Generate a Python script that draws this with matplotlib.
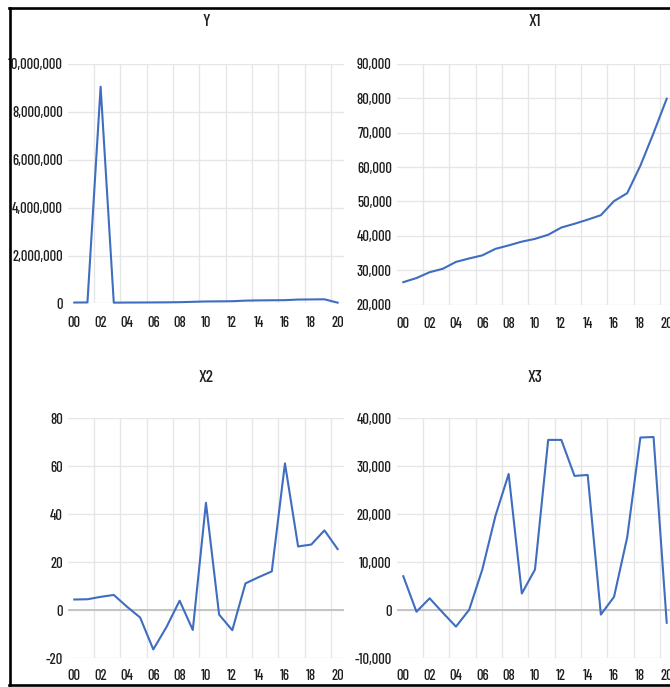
import numpy as np
import matplotlib
matplotlib.use('Agg')
import matplotlib.pyplot as plt
from matplotlib.ticker import FuncFormatter
from matplotlib.lines import Line2D

# Datos (anios 2000-2020)
anios = np.arange(0, 21)
etiquetas_x = ['00', '02', '04', '06', '08', '10', '12', '14', '16', '18', '20']

serie_y = [40000, 45000, 9050000, 35000, 40000, 42000, 45000, 48000, 55000, 70000,
           85000, 90000, 95000, 120000, 130000, 135000, 140000, 165000, 170000, 175000, 35000]
serie_x1 = [26500, 27700, 29400, 30400, 32400, 33400, 34300, 36200, 37200, 38300,
            39100, 40300, 42400, 43500, 44700, 46000, 50100, 52400, 60400, 69900, 79900]
serie_x2 = [4.5, 4.6, 5.6, 6.4, 1.5, -3.0, -16.3, -7.0, 4.0, -8.2,
            44.8, -1.8, -8.3, 11.2, 13.8, 16.2, 61.2, 26.6, 27.4, 33.3, 25.5]
serie_x3 = [7100, -300, 2500, -500, -3400, 100, 8500, 19700, 28400, 3500,
            8500, 35500, 35500, 28000, 28200, -900, 2800, 15200, 36000, 36100, -2600]

# Constantes de dibujo
W, H = 670, 687
color_linea = '#3F6DBF'
color_rejilla = '#E6E6E6'
color_texto = '#1E1E1E'
plt.rcParams['font.family'] = ['Barlow Condensed', 'Archivo Narrow', 'Liberation Sans', 'DejaVu Sans']
plt.rcParams['font.weight'] = 500


def caja(x0, y0, x1, y1):
    return [x0/W, 1 - y1/H, (x1 - x0)/W, (y1 - y0)/H]


def miles(v, pos):
    return '{:,.0f}'.format(v)


fig = plt.figure(figsize=(W/100, H/100), dpi=100)
fig.patch.set_facecolor('white')

paneles = [
    ('Y', serie_y, (67.7, 64, 344.2, 303.5), (0, 10000000, 2000000), 9.0, False),
    ('X1', serie_x1, (396.7, 64, 673.3, 304.5), (20000, 90000, 10000), 9.0, False),
    ('X2', serie_x2, (67.7, 418.3, 344.2, 658.3), (-20, 80, 20), 8.0, True),
    ('X3', serie_x3, (396.7, 418.3, 673.3, 658.3), (-10000, 40000, 10000), 8.0, True),
]

for titulo, datos, pos, (ymin, ymax, paso), pad_x, linea_cero in paneles:
    ax = fig.add_axes(caja(*pos))
    ax.set_xlim(-0.5, 20.5)
    ax.set_ylim(ymin, ymax)
    for s in ax.spines.values():
        s.set_visible(False)
    ax.set_yticks(np.arange(ymin, ymax + paso/2, paso))
    ax.yaxis.set_major_formatter(FuncFormatter(miles))
    ax.set_xticks(np.arange(0, 21, 2))
    ax.set_xticklabels(etiquetas_x)
    ax.set_xticks(np.arange(1.5, 20, 2), minor=True)
    ax.tick_params(axis='both', which='both', length=0, labelsize=10.5, colors=color_texto)
    ax.tick_params(axis='x', pad=pad_x)
    ax.tick_params(axis='y', pad=3.5)
    ax.grid(True, axis='y', which='major', color=color_rejilla, lw=1.0)
    ax.grid(True, axis='x', which='minor', color=color_rejilla, lw=1.0)
    ax.set_axisbelow(True)
    if linea_cero:
        ax.axhline(0, color='#C4C4C4', lw=1.4, zorder=1)
    ax.plot(anios, datos, color=color_linea, lw=1.5, zorder=3, clip_on=False)
    cx = (pos[0] + pos[2]) / 2
    cy = 22 if pos[1] < 300 else 378
    fig.text(cx/W, 1 - cy/H, titulo, ha='center', va='center', fontsize=12.5, color=color_texto)

# Marco negro de la captura
fig.add_artist(Line2D([9.5/W, 9.5/W], [1 - 7.5/H, 1 - 685/H], color='black', lw=1.9))
fig.add_artist(Line2D([8.8/W, 1], [1 - 8/H, 1 - 8/H], color='black', lw=1.9))
fig.add_artist(Line2D([8.8/W, 1], [1 - 685/H, 1 - 685/H], color='black', lw=1.9))

fig.savefig('out.png', dpi=100)
plt.close()
